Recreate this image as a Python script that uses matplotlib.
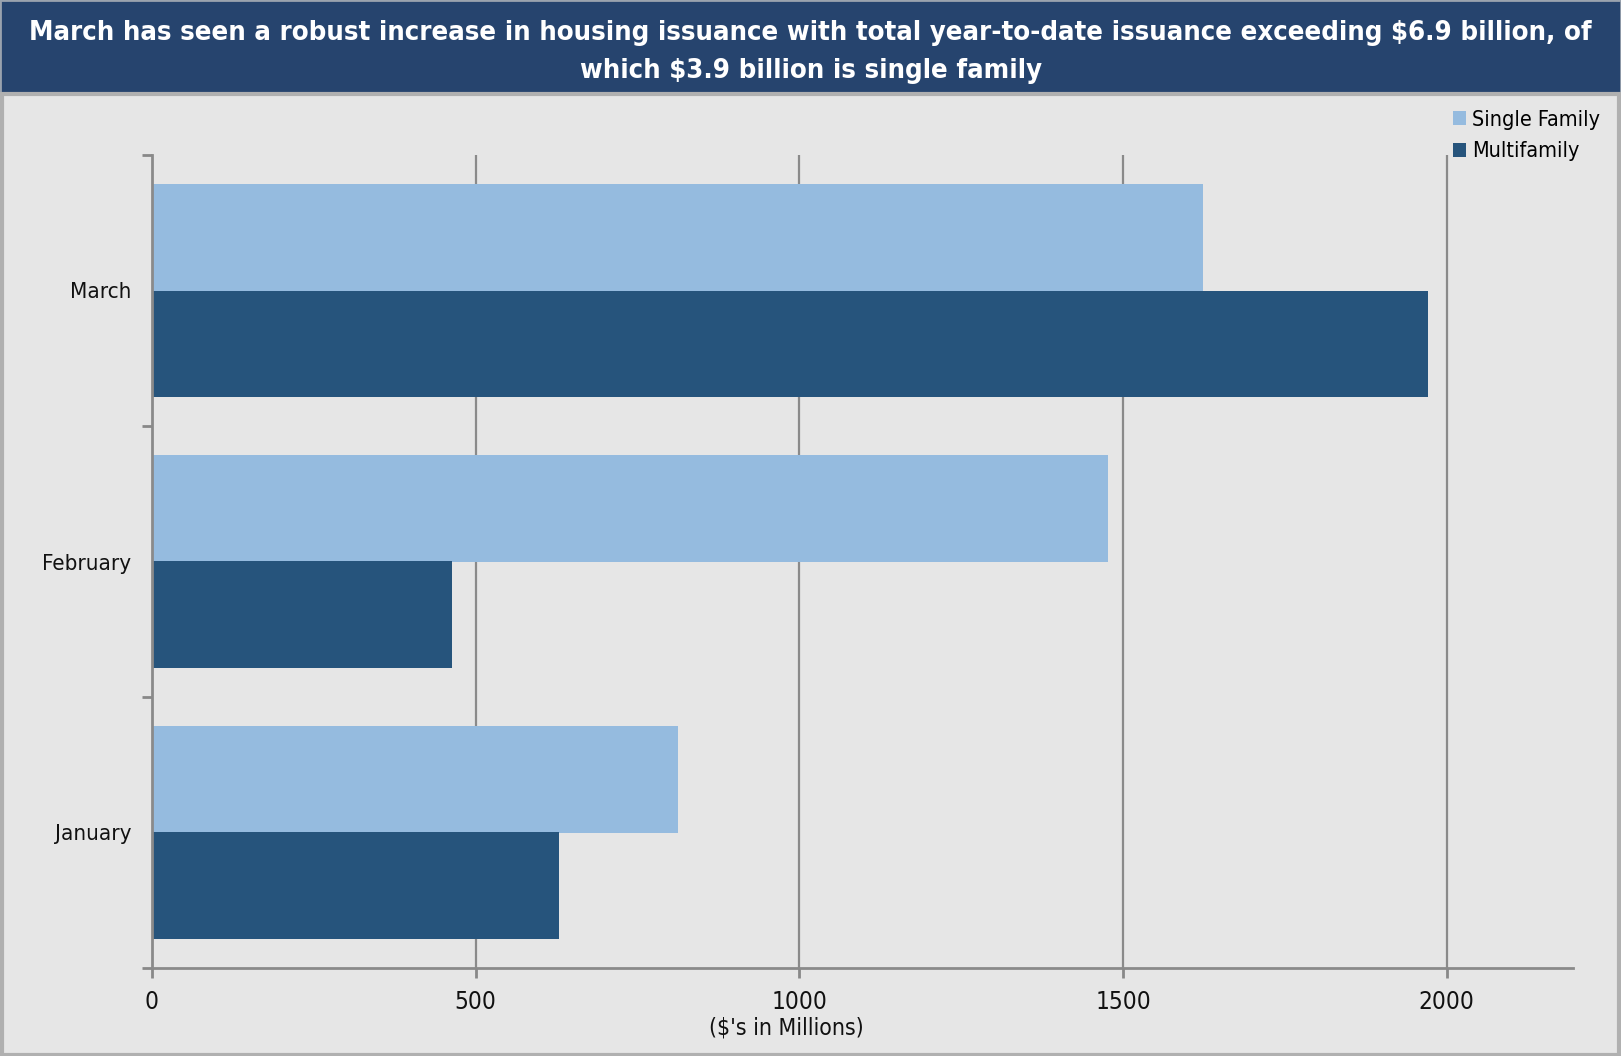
import matplotlib.pyplot as plt
import numpy as np
from matplotlib.patches import Rectangle

months = ["January", "February", "March"]
single_family = [813, 1476, 1623]
multifamily = [629, 463, 1971]
x_ticks = [0, 500, 1000, 1500, 2000]

title = ("March has seen a robust increase in housing issuance with total year-to-date issuance exceeding $6.9 billion, of\n"
         "which $3.9 billion is single family")

plt.rcParams['font.family'] = ['DejaVu Sans']
plt.rcParams['font.stretch'] = 'condensed'

light = '#95BBDF'
dark = '#26547C'
bg = '#E6E6E6'
W, H = 1621, 1056

fig = plt.figure(figsize=(W / 100, H / 100), dpi=100)
fig.patch.set_facecolor(bg)

# header band and frame
fig.patches.append(Rectangle((0, 1 - 93 / H), 1, 93 / H, transform=fig.transFigure,
                             facecolor='#26446E', edgecolor='#9AA3AE', lw=2, zorder=0))
fig.patches.append(Rectangle((0.001, 0.001), 0.998, 1 - 95 / H, transform=fig.transFigure,
                             facecolor='none', edgecolor='#B0B0B0', lw=3, zorder=0))
ttl = fig.text(0.5, 1 - 52 / H, title, ha='center', va='center', color='white',
               fontsize=23, fontweight='bold', linespacing=1.62)

# shrink the title until it fits the band
renderer = fig.canvas.get_renderer()
w = ttl.get_window_extent(renderer).width
if w > 1570:
    ttl.set_fontsize(23 * 1570 / w)

ax = fig.add_axes([152 / W, 1 - 968 / H, (1573 - 152) / W, (968 - 155) / H])
ax.set_facecolor(bg)

y = np.arange(len(months))
h = 0.393
ax.barh(y + h / 2, single_family, height=h, color=light, label='Single Family', zorder=2)
ax.barh(y - h / 2, multifamily, height=h, color=dark, label='Multifamily', zorder=2)

ax.set_xlim(0, 2195)
ax.set_ylim(-0.5, 2.5)
ax.set_xticks(x_ticks)
ax.set_xticklabels([str(v) for v in x_ticks], fontsize=17.5, color='#111111')
ax.set_yticks(y)
ax.set_yticklabels(months, fontsize=16, color='#111111')
ax.set_yticks([-0.5, 0.5, 1.5, 2.5], minor=True)
ax.tick_params(axis='y', which='major', length=0, pad=15)
ax.tick_params(axis='y', which='minor', length=7, width=2, color='#888888')
ax.tick_params(axis='x', length=7, width=2, color='#888888', pad=9)

for v in x_ticks[1:]:
    ax.axvline(v, color='#8A8A8A', lw=1.6, zorder=1)

for side in ['top', 'right']:
    ax.spines[side].set_visible(False)
for side in ['left', 'bottom']:
    ax.spines[side].set_color('#8A8A8A')
    ax.spines[side].set_linewidth(2)

ax.annotate("($'s in Millions)", xy=(980, 0), xycoords=('data', 'axes fraction'),
            xytext=(0, -35), textcoords='offset points', ha='center', va='top',
            fontsize=16.5, color='#111111')

fig.legend(loc='upper right', bbox_to_anchor=(1 - 12 / W, 1 - 101 / H), frameon=False,
           fontsize=15.5, handlelength=0.6, handleheight=0.6, handletextpad=0.3,
           labelspacing=0.55, borderaxespad=0)

fig.savefig('out.png', dpi=100, facecolor=bg)
